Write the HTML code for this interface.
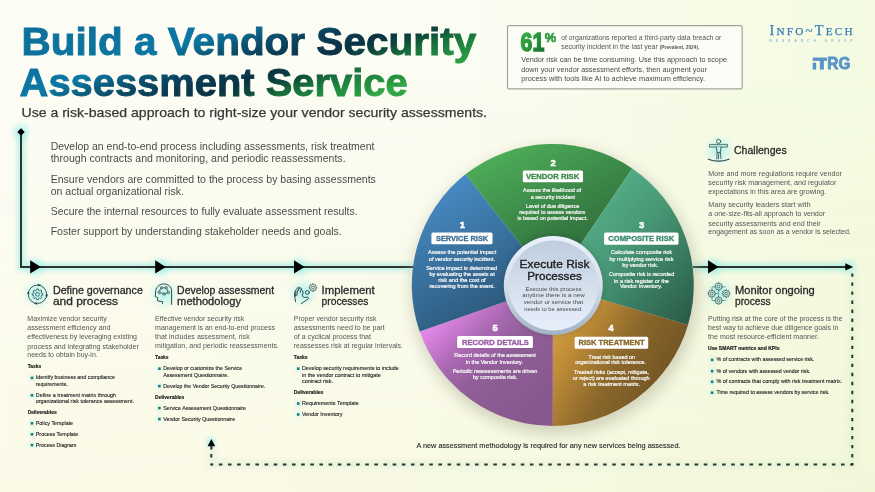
<!DOCTYPE html>
<html><head><meta charset="utf-8"><title>Build a Vendor Security Assessment Service</title>
<style>
html,body{margin:0;padding:0;width:875px;height:492px;overflow:hidden;}
body{font-family:"Liberation Sans",sans-serif;
background:#f9faee;}
svg{position:absolute;left:0;top:0;will-change:transform;}
</style></head><body>
<svg width="875" height="492" viewBox="0 0 875 492">

<defs>
<linearGradient id="tg" gradientUnits="userSpaceOnUse" x1="0" y1="50" x2="51" y2="203">
 <stop offset="0" stop-color="#0c709c"/>
 <stop offset="0.33" stop-color="#0c77a3"/>
 <stop offset="0.41" stop-color="#0c5e80"/>
 <stop offset="0.48" stop-color="#0b4a66"/>
 <stop offset="0.58" stop-color="#0a3a50"/>
 <stop offset="0.67" stop-color="#0a3344"/>
 <stop offset="0.745" stop-color="#0d4a3a"/>
 <stop offset="0.80" stop-color="#166a3c"/>
 <stop offset="0.88" stop-color="#1f8640"/>
 <stop offset="0.94" stop-color="#259440"/>
 <stop offset="1" stop-color="#30a848"/>
</linearGradient>
<linearGradient id="g61" x1="0" y1="0" x2="1" y2="1">
 <stop offset="0" stop-color="#3db54b"/><stop offset="0.6" stop-color="#259039"/><stop offset="1" stop-color="#136428"/>
</linearGradient>
<linearGradient id="s1" x1="0" y1="0" x2="0.5" y2="1">
 <stop offset="0" stop-color="#4c93d0"/><stop offset="1" stop-color="#2b5676"/>
</linearGradient>
<linearGradient id="s2" x1="0.1" y1="0" x2="0.75" y2="1">
 <stop offset="0" stop-color="#50b45b"/><stop offset="0.45" stop-color="#3d8c4a"/><stop offset="0.8" stop-color="#316e3b"/><stop offset="1" stop-color="#2c6236"/>
</linearGradient>
<linearGradient id="s3" x1="0" y1="0" x2="1" y2="1">
 <stop offset="0" stop-color="#60c29a"/><stop offset="0.5" stop-color="#489876"/><stop offset="1" stop-color="#285846"/>
</linearGradient>
<linearGradient id="s4" x1="0" y1="0" x2="1" y2="0.6">
 <stop offset="0" stop-color="#e2ae4a"/><stop offset="0.3" stop-color="#bf8c38"/><stop offset="0.6" stop-color="#8a672a"/><stop offset="1" stop-color="#6c5024"/>
</linearGradient>
<linearGradient id="s5" x1="0" y1="0.2" x2="0.7" y2="1">
 <stop offset="0" stop-color="#f292f6"/><stop offset="0.15" stop-color="#dc84e2"/><stop offset="0.4" stop-color="#a868b0"/><stop offset="0.6" stop-color="#905e98"/><stop offset="1" stop-color="#87588e"/>
</linearGradient>
<linearGradient id="cin" x1="0" y1="0" x2="0" y2="1">
 <stop offset="0" stop-color="#bfcddf"/><stop offset="0.5" stop-color="#d4dfec"/><stop offset="1" stop-color="#e7effa"/>
</linearGradient>
<linearGradient id="cring" x1="0" y1="0" x2="0" y2="1">
 <stop offset="0" stop-color="#e8f1fc"/><stop offset="0.45" stop-color="#d8e2ee"/><stop offset="1" stop-color="#a2b3c5"/>
</linearGradient>
<radialGradient id="glow">
 <stop offset="0" stop-color="#9ff0e8" stop-opacity="0.9"/><stop offset="1" stop-color="#bff5ee" stop-opacity="0"/>
</radialGradient>
<filter id="blur8" x="-20%" y="-20%" width="140%" height="140%"><feGaussianBlur stdDeviation="7"/></filter>
<filter id="lglow" x="-5%" y="-5%" width="110%" height="110%"><feGaussianBlur stdDeviation="2.5"/></filter>
<filter id="blur6" x="-20%" y="-20%" width="140%" height="140%"><feGaussianBlur stdDeviation="5"/></filter>
<filter id="blur3" x="-20%" y="-20%" width="140%" height="140%"><feGaussianBlur stdDeviation="2.5"/></filter>
</defs>

<defs>
<linearGradient id="bgt" x1="0" y1="0" x2="1" y2="0">
 <stop offset="0" stop-color="#fdfdf6"/><stop offset="0.55" stop-color="#fbfcf2"/><stop offset="0.72" stop-color="#f7fbe8"/><stop offset="1" stop-color="#f4fbe2"/>
</linearGradient>
<linearGradient id="bgb" x1="0" y1="0" x2="1" y2="0">
 <stop offset="0" stop-color="#fbfae7"/><stop offset="0.5" stop-color="#f8f9e3"/><stop offset="1" stop-color="#f3f7da"/>
</linearGradient>
<linearGradient id="bgm" x1="0" y1="0" x2="0" y2="1">
 <stop offset="0.15" stop-color="#fff" stop-opacity="0"/><stop offset="1" stop-color="#fff" stop-opacity="1"/>
</linearGradient>
<mask id="bgmask" maskUnits="userSpaceOnUse" x="0" y="0" width="875" height="492"><rect width="875" height="492" fill="url(#bgm)"/></mask>
</defs>
<rect width="875" height="492" fill="url(#bgt)"/>
<rect width="875" height="492" fill="url(#bgb)" mask="url(#bgmask)"/>
<circle cx="21" cy="132" r="12" fill="url(#glow)" opacity="1"/>
<circle cx="35" cy="267" r="13" fill="url(#glow)" opacity="1"/>
<circle cx="160" cy="267" r="13" fill="url(#glow)" opacity="1"/>
<circle cx="299" cy="267" r="13" fill="url(#glow)" opacity="1"/>
<circle cx="713" cy="267" r="13" fill="url(#glow)" opacity="1"/>
<circle cx="849" cy="267" r="11" fill="url(#glow)" opacity="1"/>
<circle cx="211" cy="442" r="8" fill="url(#glow)" opacity="1"/>
<circle cx="35" cy="267" r="7" fill="url(#glow)" opacity="1"/>
<circle cx="160" cy="267" r="7" fill="url(#glow)" opacity="1"/>
<circle cx="299" cy="267" r="7" fill="url(#glow)" opacity="1"/>
<circle cx="713" cy="267" r="7" fill="url(#glow)" opacity="1"/>
<circle cx="37" cy="294" r="16" fill="url(#glow)" opacity="1"/>
<circle cx="164" cy="294" r="16" fill="url(#glow)" opacity="1"/>
<circle cx="303" cy="293" r="16" fill="url(#glow)" opacity="1"/>
<circle cx="719" cy="150" r="16" fill="url(#glow)" opacity="1"/>
<circle cx="719" cy="293" r="16" fill="url(#glow)" opacity="1"/>
<text x="21.6" y="55.2" font-size="39" fill="url(#tg)" font-weight="bold" textLength="454.6" lengthAdjust="spacingAndGlyphs" font-family='"Liberation Sans", sans-serif' stroke="url(#tg)" stroke-width="0.9">Build a Vendor Security</text>
<text x="19.6" y="95.6" font-size="39" fill="url(#tg)" font-weight="bold" textLength="388.0" lengthAdjust="spacingAndGlyphs" font-family='"Liberation Sans", sans-serif' stroke="url(#tg)" stroke-width="0.9">Assessment Service</text>
<text x="21.5" y="117.4" font-size="13.4" fill="#383838" textLength="465.5" lengthAdjust="spacingAndGlyphs" font-family='"Liberation Sans", sans-serif' stroke="#383838" stroke-width="0.25">Use a risk-based approach to right-size your vendor security assessments.</text>
<rect x="507.5" y="25.6" width="234.7" height="63.3" rx="1.5" fill="#fbfcf5" stroke="#a4a49c" stroke-width="1.2"/>
<text x="520.6" y="51.0" font-size="25.5" fill="url(#g61)" font-weight="bold" textLength="23.6" lengthAdjust="spacingAndGlyphs" font-family='"Liberation Sans", sans-serif' stroke="url(#g61)" stroke-width="1.5">61</text>
<text x="544.8" y="41.8" font-size="12.5" fill="#2a9a3e" font-weight="bold" textLength="11.4" lengthAdjust="spacingAndGlyphs" font-family='"Liberation Sans", sans-serif' stroke="#2a9a3e" stroke-width="0.6">%</text>
<text x="561.2" y="40.1" font-size="6.6" fill="#555" textLength="160.2" lengthAdjust="spacingAndGlyphs" font-family='"Liberation Sans", sans-serif' >of organizations reported a third-party data breach or</text>
<text x="561.2" y="49.4" font-size="6.6" fill="#555" font-family='"Liberation Sans", sans-serif' textLength="138.8" lengthAdjust="spacingAndGlyphs">security incident in the last year <tspan font-size="4.6" font-weight="bold">(Prevalent, 2024)</tspan>.</text>
<text x="521.2" y="62.3" font-size="7.1" fill="#4a4a4a" textLength="205.8" lengthAdjust="spacingAndGlyphs" font-family='"Liberation Sans", sans-serif' >Vendor risk can be time consuming. Use this approach to scope</text>
<text x="521.2" y="71.5" font-size="7.1" fill="#4a4a4a" textLength="185.8" lengthAdjust="spacingAndGlyphs" font-family='"Liberation Sans", sans-serif' >down your vendor assessment efforts, then augment your</text>
<text x="521.2" y="80.7" font-size="7.1" fill="#4a4a4a" textLength="183.8" lengthAdjust="spacingAndGlyphs" font-family='"Liberation Sans", sans-serif' >process with tools like AI to achieve maximum efficiency.</text>
<text x="769.5" y="35.3" fill="#3a7db8" stroke="#3a7db8" stroke-width="0.25" font-family='"Liberation Serif", serif' textLength="83" lengthAdjust="spacing"><tspan font-size="14.2">I</tspan><tspan font-size="11.2">NFO</tspan><tspan font-size="13">~</tspan><tspan font-size="14.2">T</tspan><tspan font-size="11.2">ECH</tspan></text>
<text x="769.5" y="41.6" font-size="3.0" fill="#8fb0d0" font-weight="bold" textLength="83.0" lengthAdjust="spacing" font-family='"Liberation Sans", sans-serif' >RESEARCH GROUP</text>
<g fill="#5a95c9"><rect x="812.7" y="57.5" width="14.2" height="3.4"/><rect x="812.7" y="62.6" width="3.5" height="7"/><rect x="819.8" y="60" width="4.1" height="9.6"/></g>
<text x="827.3" y="69.1" font-size="17.0" fill="#5a95c9" font-weight="bold" textLength="23.1" lengthAdjust="spacingAndGlyphs" font-family='"Liberation Sans", sans-serif' stroke="#5a95c9" stroke-width="0.9">RG</text>
<text x="50.7" y="150.4" font-size="11.4" fill="#4b4b4b" textLength="323.7" lengthAdjust="spacingAndGlyphs" font-family='"Liberation Sans", sans-serif' >Develop an end-to-end process including assessments, risk treatment</text>
<text x="50.7" y="162.3" font-size="11.4" fill="#4b4b4b" textLength="294.9" lengthAdjust="spacingAndGlyphs" font-family='"Liberation Sans", sans-serif' >through contracts and monitoring, and periodic reassessments.</text>
<text x="50.7" y="183.0" font-size="11.4" fill="#4b4b4b" textLength="325.2" lengthAdjust="spacingAndGlyphs" font-family='"Liberation Sans", sans-serif' >Ensure vendors are committed to the process by basing assessments</text>
<text x="50.7" y="195.2" font-size="11.4" fill="#4b4b4b" textLength="133.2" lengthAdjust="spacingAndGlyphs" font-family='"Liberation Sans", sans-serif' >on actual organizational risk.</text>
<text x="50.7" y="215.4" font-size="11.4" fill="#4b4b4b" textLength="306.9" lengthAdjust="spacingAndGlyphs" font-family='"Liberation Sans", sans-serif' >Secure the internal resources to fully evaluate assessment results.</text>
<text x="50.7" y="235.3" font-size="11.4" fill="#4b4b4b" textLength="291.1" lengthAdjust="spacingAndGlyphs" font-family='"Liberation Sans", sans-serif' >Foster support by understanding stakeholder needs and goals.</text>
<g stroke="#a0eee2" stroke-width="7" fill="none" filter="url(#lglow)" opacity="0.75">
<path d="M21,132 V267 H413"/><path d="M693,267 H847"/>
<path d="M852.3,272 V464.4 H211.3 V446" stroke="#d8f0d0" opacity="0.6"/>
</g>
<g stroke="#2c3533" stroke-width="2" fill="none">
<path d="M21,132 V267 H413"/>
<path d="M693,267 H847"/>
<path d="M852.3,273.4 V465.4" stroke-dasharray="3.4 5.63"/>
<path d="M211.3,464.4 H853.3" stroke-dasharray="3.6 5.55" stroke-dashoffset="1.65"/>
<path d="M211.3,465.4 V449" stroke-dasharray="2 6 3.3 20"/>
</g>
<path d="M21,128.3 L24.7,132 L21,135.7 L17.3,132 Z" fill="#000"/>
<path d="M30.2,260.2 L40.8,267 L30.2,273.6 Z" fill="#000"/>
<path d="M155.2,260.2 L165.79999999999998,267 L155.2,273.6 Z" fill="#000"/>
<path d="M294,260.2 L304.6,267 L294,273.6 Z" fill="#000"/>
<path d="M708,260.2 L718.6,267 L708,273.6 Z" fill="#000"/>
<path d="M845.3,263.3 L853.2,267 L845.3,270.6 Z" fill="#000"/>
<path d="M207.6,446.2 L211.4,439 L215.2,446.2 Z" fill="#000"/>
<path d="M211.4,445 V449.5" stroke="#1e2a2a" stroke-width="2"/>
<circle cx="554.8" cy="291" r="144" fill="#a8aa90" opacity="0.45" filter="url(#blur8)"/>
<path d="M552.8,285 L465.41,174.35 A141,141 0 0 1 632.26,168.52 Z" fill="url(#s2)"/>
<path d="M552.8,285 L632.26,168.52 A141,141 0 0 1 687.99,325.05 Z" fill="url(#s3)"/>
<path d="M552.8,285 L687.99,325.05 A141,141 0 0 1 552.80,426.00 Z" fill="url(#s4)"/>
<path d="M552.8,285 L552.80,426.00 A141,141 0 0 1 419.72,331.60 Z" fill="url(#s5)"/>
<path d="M552.8,285 L419.72,331.60 A141,141 0 0 1 465.41,174.35 Z" fill="url(#s1)"/>
<circle cx="553.3" cy="284.5" r="50.5" fill="#1a2a20" opacity="0.18" filter="url(#blur3)"/>
<circle cx="553.3" cy="285.5" r="49.5" fill="url(#cring)"/>
<circle cx="553.3" cy="285.5" r="45.0" fill="url(#cin)"/>
<text x="554.5" y="268.2" font-size="10.9" fill="#1e1e1e" text-anchor="middle" textLength="70.0" lengthAdjust="spacingAndGlyphs" font-family='"Liberation Sans", sans-serif' stroke="#1e1e1e" stroke-width="0.35">Execute Risk</text>
<text x="554.5" y="279.9" font-size="10.9" fill="#1e1e1e" text-anchor="middle" textLength="54.5" lengthAdjust="spacingAndGlyphs" font-family='"Liberation Sans", sans-serif' stroke="#1e1e1e" stroke-width="0.35">Processes</text>
<text x="553.5" y="290.6" font-size="6.2" fill="#4a4a4a" text-anchor="middle" textLength="56.0" lengthAdjust="spacingAndGlyphs" font-family='"Liberation Sans", sans-serif' >Execute this process</text>
<text x="553.5" y="297.3" font-size="6.2" fill="#4a4a4a" text-anchor="middle" textLength="62.5" lengthAdjust="spacingAndGlyphs" font-family='"Liberation Sans", sans-serif' >anytime there is a new</text>
<text x="553.5" y="303.9" font-size="6.2" fill="#4a4a4a" text-anchor="middle" textLength="59.5" lengthAdjust="spacingAndGlyphs" font-family='"Liberation Sans", sans-serif' >vendor or service that</text>
<text x="553.5" y="310.6" font-size="6.2" fill="#4a4a4a" text-anchor="middle" textLength="58.4" lengthAdjust="spacingAndGlyphs" font-family='"Liberation Sans", sans-serif' >needs to be assessed.</text>
<text x="553.1" y="166.1" font-size="9.4" font-weight="bold" fill="#fff" stroke="#fff" stroke-width="0.5" text-anchor="middle" font-family='"Liberation Sans", sans-serif'>2</text>
<rect x="522.8" y="170.4" width="60.2" height="11.9" rx="1.5" fill="#fff"/>
<text x="552.6" y="179.0" font-size="7.2" fill="#3d8a48" font-weight="bold" text-anchor="middle" textLength="53.3" lengthAdjust="spacingAndGlyphs" font-family='"Liberation Sans", sans-serif' stroke="#3d8a48" stroke-width="0.3">VENDOR RISK</text>
<text x="552.1" y="191.9" font-size="5.4" fill="#f6f6f6" text-anchor="middle" textLength="58.0" lengthAdjust="spacingAndGlyphs" font-family='"Liberation Sans", sans-serif' stroke="#f6f6f6" stroke-width="0.22">Assess the likelihood of</text>
<text x="552.9" y="198.6" font-size="5.4" fill="#f6f6f6" text-anchor="middle" textLength="44.5" lengthAdjust="spacingAndGlyphs" font-family='"Liberation Sans", sans-serif' stroke="#f6f6f6" stroke-width="0.22">a security incident</text>
<text x="552.6" y="207.5" font-size="5.4" fill="#f6f6f6" text-anchor="middle" textLength="53.3" lengthAdjust="spacingAndGlyphs" font-family='"Liberation Sans", sans-serif' stroke="#f6f6f6" stroke-width="0.22">Level of due diligence</text>
<text x="552.2" y="213.8" font-size="5.4" fill="#f6f6f6" text-anchor="middle" textLength="65.9" lengthAdjust="spacingAndGlyphs" font-family='"Liberation Sans", sans-serif' stroke="#f6f6f6" stroke-width="0.22">required to assess vendors</text>
<text x="552.6" y="219.9" font-size="5.4" fill="#f6f6f6" text-anchor="middle" textLength="70.3" lengthAdjust="spacingAndGlyphs" font-family='"Liberation Sans", sans-serif' stroke="#f6f6f6" stroke-width="0.22">is based on potential impact.</text>
<text x="462.4" y="227.8" font-size="9.4" font-weight="bold" fill="#fff" stroke="#fff" stroke-width="0.5" text-anchor="middle" font-family='"Liberation Sans", sans-serif'>1</text>
<rect x="431.4" y="232.5" width="61.1" height="11.8" rx="1.5" fill="#fff"/>
<text x="462.1" y="241.0" font-size="7.2" fill="#3a6f98" font-weight="bold" text-anchor="middle" textLength="52.3" lengthAdjust="spacingAndGlyphs" font-family='"Liberation Sans", sans-serif' stroke="#3a6f98" stroke-width="0.3">SERVICE RISK</text>
<text x="462.1" y="254.0" font-size="5.4" fill="#f6f6f6" text-anchor="middle" textLength="68.4" lengthAdjust="spacingAndGlyphs" font-family='"Liberation Sans", sans-serif' stroke="#f6f6f6" stroke-width="0.22">Assess the potential impact</text>
<text x="461.9" y="260.5" font-size="5.4" fill="#f6f6f6" text-anchor="middle" textLength="66.2" lengthAdjust="spacingAndGlyphs" font-family='"Liberation Sans", sans-serif' stroke="#f6f6f6" stroke-width="0.22">of vendor security incident.</text>
<text x="461.6" y="269.7" font-size="5.4" fill="#f6f6f6" text-anchor="middle" textLength="70.9" lengthAdjust="spacingAndGlyphs" font-family='"Liberation Sans", sans-serif' stroke="#f6f6f6" stroke-width="0.22">Service impact is determined</text>
<text x="462.1" y="276.1" font-size="5.4" fill="#f6f6f6" text-anchor="middle" textLength="65.2" lengthAdjust="spacingAndGlyphs" font-family='"Liberation Sans", sans-serif' stroke="#f6f6f6" stroke-width="0.22">by evaluating the assets at</text>
<text x="462.0" y="282.2" font-size="5.4" fill="#f6f6f6" text-anchor="middle" textLength="47.3" lengthAdjust="spacingAndGlyphs" font-family='"Liberation Sans", sans-serif' stroke="#f6f6f6" stroke-width="0.22">risk and the cost of</text>
<text x="462.1" y="288.3" font-size="5.4" fill="#f6f6f6" text-anchor="middle" textLength="65.2" lengthAdjust="spacingAndGlyphs" font-family='"Liberation Sans", sans-serif' stroke="#f6f6f6" stroke-width="0.22">recovering from the event.</text>
<text x="641.5" y="227.8" font-size="9.4" font-weight="bold" fill="#fff" stroke="#fff" stroke-width="0.5" text-anchor="middle" font-family='"Liberation Sans", sans-serif'>3</text>
<rect x="604.1" y="232.5" width="74.4" height="12.2" rx="1.5" fill="#fff"/>
<text x="641.3" y="241.4" font-size="7.2" fill="#3a8a6a" font-weight="bold" text-anchor="middle" textLength="65.9" lengthAdjust="spacingAndGlyphs" font-family='"Liberation Sans", sans-serif' stroke="#3a8a6a" stroke-width="0.3">COMPOSITE RISK</text>
<text x="641.5" y="254.0" font-size="5.4" fill="#f6f6f6" text-anchor="middle" textLength="61.0" lengthAdjust="spacingAndGlyphs" font-family='"Liberation Sans", sans-serif' stroke="#f6f6f6" stroke-width="0.22">Calculate composite risk</text>
<text x="641.5" y="260.8" font-size="5.4" fill="#f6f6f6" text-anchor="middle" textLength="64.1" lengthAdjust="spacingAndGlyphs" font-family='"Liberation Sans", sans-serif' stroke="#f6f6f6" stroke-width="0.22">by multiplying service risk</text>
<text x="640.3" y="266.9" font-size="5.4" fill="#f6f6f6" text-anchor="middle" textLength="35.9" lengthAdjust="spacingAndGlyphs" font-family='"Liberation Sans", sans-serif' stroke="#f6f6f6" stroke-width="0.22">by vendor risk.</text>
<text x="641.6" y="275.8" font-size="5.4" fill="#f6f6f6" text-anchor="middle" textLength="65.3" lengthAdjust="spacingAndGlyphs" font-family='"Liberation Sans", sans-serif' stroke="#f6f6f6" stroke-width="0.22">Composite risk is recorded</text>
<text x="641.5" y="282.5" font-size="5.4" fill="#f6f6f6" text-anchor="middle" textLength="54.9" lengthAdjust="spacingAndGlyphs" font-family='"Liberation Sans", sans-serif' stroke="#f6f6f6" stroke-width="0.22">in a risk register or the</text>
<text x="641.0" y="288.3" font-size="5.4" fill="#f6f6f6" text-anchor="middle" textLength="41.9" lengthAdjust="spacingAndGlyphs" font-family='"Liberation Sans", sans-serif' stroke="#f6f6f6" stroke-width="0.22">Vendor Inventory.</text>
<text x="495.2" y="331.2" font-size="9.4" font-weight="bold" fill="#fff" stroke="#fff" stroke-width="0.5" text-anchor="middle" font-family='"Liberation Sans", sans-serif'>5</text>
<rect x="457.2" y="335.9" width="75.7" height="12.1" rx="1.5" fill="#fff"/>
<text x="495.4" y="344.7" font-size="7.2" fill="#9a5aa5" font-weight="bold" text-anchor="middle" textLength="67.0" lengthAdjust="spacingAndGlyphs" font-family='"Liberation Sans", sans-serif' stroke="#9a5aa5" stroke-width="0.3">RECORD DETAILS</text>
<text x="495.0" y="357.3" font-size="5.4" fill="#f6f6f6" text-anchor="middle" textLength="81.7" lengthAdjust="spacingAndGlyphs" font-family='"Liberation Sans", sans-serif' stroke="#f6f6f6" stroke-width="0.22">Record details of the assessment</text>
<text x="494.4" y="363.9" font-size="5.4" fill="#f6f6f6" text-anchor="middle" textLength="57.1" lengthAdjust="spacingAndGlyphs" font-family='"Liberation Sans", sans-serif' stroke="#f6f6f6" stroke-width="0.22">in the Vendor Inventory.</text>
<text x="495.0" y="372.5" font-size="5.4" fill="#f6f6f6" text-anchor="middle" textLength="84.7" lengthAdjust="spacingAndGlyphs" font-family='"Liberation Sans", sans-serif' stroke="#f6f6f6" stroke-width="0.22">Periodic reassessments are driven</text>
<text x="495.2" y="379.1" font-size="5.4" fill="#f6f6f6" text-anchor="middle" textLength="44.9" lengthAdjust="spacingAndGlyphs" font-family='"Liberation Sans", sans-serif' stroke="#f6f6f6" stroke-width="0.22">by composite risk.</text>
<text x="611.2" y="331.3" font-size="9.4" font-weight="bold" fill="#fff" stroke="#fff" stroke-width="0.5" text-anchor="middle" font-family='"Liberation Sans", sans-serif'>4</text>
<rect x="574.7" y="336.8" width="73.5" height="11.9" rx="1.5" fill="#fff"/>
<text x="611.5" y="345.4" font-size="7.2" fill="#876628" font-weight="bold" text-anchor="middle" textLength="66.1" lengthAdjust="spacingAndGlyphs" font-family='"Liberation Sans", sans-serif' stroke="#876628" stroke-width="0.3">RISK TREATMENT</text>
<text x="611.8" y="358.6" font-size="5.4" fill="#f6f6f6" text-anchor="middle" textLength="46.5" lengthAdjust="spacingAndGlyphs" font-family='"Liberation Sans", sans-serif' stroke="#f6f6f6" stroke-width="0.22">Treat risk based on</text>
<text x="610.6" y="364.3" font-size="5.4" fill="#f6f6f6" text-anchor="middle" textLength="70.8" lengthAdjust="spacingAndGlyphs" font-family='"Liberation Sans", sans-serif' stroke="#f6f6f6" stroke-width="0.22">organizational risk tolerance.</text>
<text x="611.3" y="373.9" font-size="5.4" fill="#f6f6f6" text-anchor="middle" textLength="75.1" lengthAdjust="spacingAndGlyphs" font-family='"Liberation Sans", sans-serif' stroke="#f6f6f6" stroke-width="0.22">Treated risks (accept, mitigate,</text>
<text x="611.2" y="379.9" font-size="5.4" fill="#f6f6f6" text-anchor="middle" textLength="76.8" lengthAdjust="spacingAndGlyphs" font-family='"Liberation Sans", sans-serif' stroke="#f6f6f6" stroke-width="0.22">or reject) are evaluated through</text>
<text x="611.7" y="386.3" font-size="5.4" fill="#f6f6f6" text-anchor="middle" textLength="56.9" lengthAdjust="spacingAndGlyphs" font-family='"Liberation Sans", sans-serif' stroke="#f6f6f6" stroke-width="0.22">a risk treatment matrix.</text>
<text x="52.9" y="294.0" font-size="10.1" fill="#2b2b2b" textLength="90.0" lengthAdjust="spacingAndGlyphs" font-family='"Liberation Sans", sans-serif' stroke="#2b2b2b" stroke-width="0.3">Define governance</text>
<text x="52.9" y="305.0" font-size="10.1" fill="#2b2b2b" textLength="65.1" lengthAdjust="spacingAndGlyphs" font-family='"Liberation Sans", sans-serif' stroke="#2b2b2b" stroke-width="0.3">and process</text>
<text x="27.3" y="321.2" font-size="7.9" fill="#555" textLength="79.5" lengthAdjust="spacingAndGlyphs" font-family='"Liberation Sans", sans-serif' >Maximize vendor security</text>
<text x="27.3" y="330.3" font-size="7.9" fill="#555" textLength="83.2" lengthAdjust="spacingAndGlyphs" font-family='"Liberation Sans", sans-serif' >assessment efficiency and</text>
<text x="27.3" y="339.4" font-size="7.9" fill="#555" textLength="109.7" lengthAdjust="spacingAndGlyphs" font-family='"Liberation Sans", sans-serif' >effectiveness by leveraging existing</text>
<text x="27.3" y="348.5" font-size="7.9" fill="#555" textLength="111.5" lengthAdjust="spacingAndGlyphs" font-family='"Liberation Sans", sans-serif' >process and integrating stakeholder</text>
<text x="27.3" y="357.3" font-size="7.9" fill="#555" textLength="70.4" lengthAdjust="spacingAndGlyphs" font-family='"Liberation Sans", sans-serif' >needs to obtain buy-in.</text>
<text x="27.7" y="368.1" font-size="5.8" fill="#222" font-weight="bold" textLength="13.5" lengthAdjust="spacingAndGlyphs" font-family='"Liberation Sans", sans-serif' stroke="#222" stroke-width="0.2">Tasks</text>
<circle cx="32.0" cy="377.9" r="6" fill="url(#glow)" opacity="0.35"/>
<rect x="30.7" y="376.6" width="2.6" height="2.6" fill="#16807e"/>
<text x="35.8" y="379.3" font-size="5.5" fill="#222" textLength="79.2" lengthAdjust="spacingAndGlyphs" font-family='"Liberation Sans", sans-serif' stroke="#222" stroke-width="0.12">Identify business and compliance</text>
<text x="35.8" y="385.5" font-size="5.5" fill="#222" textLength="32.1" lengthAdjust="spacingAndGlyphs" font-family='"Liberation Sans", sans-serif' stroke="#222" stroke-width="0.12">requirements.</text>
<circle cx="32.0" cy="395.3" r="6" fill="url(#glow)" opacity="0.35"/>
<rect x="30.7" y="394.0" width="2.6" height="2.6" fill="#16807e"/>
<text x="35.8" y="396.7" font-size="5.5" fill="#222" textLength="80.2" lengthAdjust="spacingAndGlyphs" font-family='"Liberation Sans", sans-serif' stroke="#222" stroke-width="0.12">Define a treatment matrix through</text>
<text x="35.8" y="402.9" font-size="5.5" fill="#222" textLength="98.2" lengthAdjust="spacingAndGlyphs" font-family='"Liberation Sans", sans-serif' stroke="#222" stroke-width="0.12">organizational risk tolerance assessment.</text>
<text x="27.7" y="413.7" font-size="5.8" fill="#222" font-weight="bold" textLength="29.0" lengthAdjust="spacingAndGlyphs" font-family='"Liberation Sans", sans-serif' stroke="#222" stroke-width="0.2">Deliverables</text>
<circle cx="32.0" cy="423.3" r="6" fill="url(#glow)" opacity="0.35"/>
<rect x="30.7" y="422.0" width="2.6" height="2.6" fill="#16807e"/>
<text x="35.8" y="424.7" font-size="5.5" fill="#222" textLength="37.3" lengthAdjust="spacingAndGlyphs" font-family='"Liberation Sans", sans-serif' stroke="#222" stroke-width="0.12">Policy Template</text>
<circle cx="32.0" cy="434.3" r="6" fill="url(#glow)" opacity="0.35"/>
<rect x="30.7" y="433.0" width="2.6" height="2.6" fill="#16807e"/>
<text x="35.8" y="435.7" font-size="5.5" fill="#222" textLength="42.5" lengthAdjust="spacingAndGlyphs" font-family='"Liberation Sans", sans-serif' stroke="#222" stroke-width="0.12">Process Template</text>
<circle cx="32.0" cy="445.1" r="6" fill="url(#glow)" opacity="0.35"/>
<rect x="30.7" y="443.8" width="2.6" height="2.6" fill="#16807e"/>
<text x="35.8" y="446.5" font-size="5.5" fill="#222" textLength="40.6" lengthAdjust="spacingAndGlyphs" font-family='"Liberation Sans", sans-serif' stroke="#222" stroke-width="0.12">Process Diagram</text>
<text x="177.1" y="294.0" font-size="10.1" fill="#2b2b2b" textLength="97.0" lengthAdjust="spacingAndGlyphs" font-family='"Liberation Sans", sans-serif' stroke="#2b2b2b" stroke-width="0.3">Develop assessment</text>
<text x="177.1" y="305.0" font-size="10.1" fill="#2b2b2b" textLength="63.9" lengthAdjust="spacingAndGlyphs" font-family='"Liberation Sans", sans-serif' stroke="#2b2b2b" stroke-width="0.3">methodology</text>
<text x="155.1" y="321.1" font-size="7.9" fill="#555" textLength="89.2" lengthAdjust="spacingAndGlyphs" font-family='"Liberation Sans", sans-serif' >Effective vendor security risk</text>
<text x="155.1" y="330.1" font-size="7.9" fill="#555" textLength="119.9" lengthAdjust="spacingAndGlyphs" font-family='"Liberation Sans", sans-serif' >management is an end-to-end process</text>
<text x="155.1" y="339.1" font-size="7.9" fill="#555" textLength="94.6" lengthAdjust="spacingAndGlyphs" font-family='"Liberation Sans", sans-serif' >that includes assessment, risk</text>
<text x="155.1" y="348.1" font-size="7.9" fill="#555" textLength="123.9" lengthAdjust="spacingAndGlyphs" font-family='"Liberation Sans", sans-serif' >mitigation, and periodic reassessments.</text>
<text x="155.1" y="359.2" font-size="5.8" fill="#222" font-weight="bold" textLength="13.4" lengthAdjust="spacingAndGlyphs" font-family='"Liberation Sans", sans-serif' stroke="#222" stroke-width="0.2">Tasks</text>
<circle cx="159.4" cy="368.7" r="6" fill="url(#glow)" opacity="0.35"/>
<rect x="158.1" y="367.4" width="2.6" height="2.6" fill="#16807e"/>
<text x="163.2" y="370.1" font-size="5.5" fill="#222" textLength="78.9" lengthAdjust="spacingAndGlyphs" font-family='"Liberation Sans", sans-serif' stroke="#222" stroke-width="0.12">Develop or customize the Service</text>
<text x="163.2" y="376.5" font-size="5.5" fill="#222" textLength="65.5" lengthAdjust="spacingAndGlyphs" font-family='"Liberation Sans", sans-serif' stroke="#222" stroke-width="0.12">Assessment Questionnaire.</text>
<circle cx="159.4" cy="386.1" r="6" fill="url(#glow)" opacity="0.35"/>
<rect x="158.1" y="384.8" width="2.6" height="2.6" fill="#16807e"/>
<text x="163.2" y="387.5" font-size="5.5" fill="#222" textLength="102.1" lengthAdjust="spacingAndGlyphs" font-family='"Liberation Sans", sans-serif' stroke="#222" stroke-width="0.12">Develop the Vendor Security Questionnaire.</text>
<text x="155.1" y="398.5" font-size="5.8" fill="#222" font-weight="bold" textLength="29.3" lengthAdjust="spacingAndGlyphs" font-family='"Liberation Sans", sans-serif' stroke="#222" stroke-width="0.2">Deliverables</text>
<circle cx="159.4" cy="408.1" r="6" fill="url(#glow)" opacity="0.35"/>
<rect x="158.1" y="406.8" width="2.6" height="2.6" fill="#16807e"/>
<text x="163.2" y="409.5" font-size="5.5" fill="#222" textLength="82.9" lengthAdjust="spacingAndGlyphs" font-family='"Liberation Sans", sans-serif' stroke="#222" stroke-width="0.12">Service Assessment Questionnaire</text>
<circle cx="159.4" cy="419.1" r="6" fill="url(#glow)" opacity="0.35"/>
<rect x="158.1" y="417.8" width="2.6" height="2.6" fill="#16807e"/>
<text x="163.2" y="420.5" font-size="5.5" fill="#222" textLength="71.9" lengthAdjust="spacingAndGlyphs" font-family='"Liberation Sans", sans-serif' stroke="#222" stroke-width="0.12">Vendor Security Questionnaire</text>
<text x="321.6" y="294.0" font-size="10.1" fill="#2b2b2b" textLength="53.1" lengthAdjust="spacingAndGlyphs" font-family='"Liberation Sans", sans-serif' stroke="#2b2b2b" stroke-width="0.3">Implement</text>
<text x="321.6" y="305.0" font-size="10.1" fill="#2b2b2b" textLength="46.7" lengthAdjust="spacingAndGlyphs" font-family='"Liberation Sans", sans-serif' stroke="#2b2b2b" stroke-width="0.3">processes</text>
<text x="293.8" y="321.0" font-size="7.9" fill="#555" textLength="82.7" lengthAdjust="spacingAndGlyphs" font-family='"Liberation Sans", sans-serif' >Proper vendor security risk</text>
<text x="293.8" y="330.2" font-size="7.9" fill="#555" textLength="90.9" lengthAdjust="spacingAndGlyphs" font-family='"Liberation Sans", sans-serif' >assessments need to be part</text>
<text x="293.8" y="339.2" font-size="7.9" fill="#555" textLength="77.2" lengthAdjust="spacingAndGlyphs" font-family='"Liberation Sans", sans-serif' >of a cyclical process that</text>
<text x="293.8" y="348.3" font-size="7.9" fill="#555" textLength="109.2" lengthAdjust="spacingAndGlyphs" font-family='"Liberation Sans", sans-serif' >reassesses risk at regular intervals.</text>
<text x="293.8" y="359.2" font-size="5.8" fill="#222" font-weight="bold" textLength="13.7" lengthAdjust="spacingAndGlyphs" font-family='"Liberation Sans", sans-serif' stroke="#222" stroke-width="0.2">Tasks</text>
<circle cx="298.2" cy="368.7" r="6" fill="url(#glow)" opacity="0.35"/>
<rect x="296.9" y="367.4" width="2.6" height="2.6" fill="#16807e"/>
<text x="302.0" y="370.1" font-size="5.5" fill="#222" textLength="96.8" lengthAdjust="spacingAndGlyphs" font-family='"Liberation Sans", sans-serif' stroke="#222" stroke-width="0.12">Develop security requirements to include</text>
<text x="302.0" y="376.5" font-size="5.5" fill="#222" textLength="78.7" lengthAdjust="spacingAndGlyphs" font-family='"Liberation Sans", sans-serif' stroke="#222" stroke-width="0.12">in the vendor contract to mitigate</text>
<text x="302.0" y="382.9" font-size="5.5" fill="#222" textLength="31.0" lengthAdjust="spacingAndGlyphs" font-family='"Liberation Sans", sans-serif' stroke="#222" stroke-width="0.12">contract risk.</text>
<text x="293.8" y="393.9" font-size="5.8" fill="#222" font-weight="bold" textLength="29.6" lengthAdjust="spacingAndGlyphs" font-family='"Liberation Sans", sans-serif' stroke="#222" stroke-width="0.2">Deliverables</text>
<circle cx="298.2" cy="403.5" r="6" fill="url(#glow)" opacity="0.35"/>
<rect x="296.9" y="402.2" width="2.6" height="2.6" fill="#16807e"/>
<text x="302.0" y="404.9" font-size="5.5" fill="#222" textLength="56.8" lengthAdjust="spacingAndGlyphs" font-family='"Liberation Sans", sans-serif' stroke="#222" stroke-width="0.12">Requirements Template</text>
<circle cx="298.2" cy="414.5" r="6" fill="url(#glow)" opacity="0.35"/>
<rect x="296.9" y="413.2" width="2.6" height="2.6" fill="#16807e"/>
<text x="302.0" y="415.9" font-size="5.5" fill="#222" textLength="40.3" lengthAdjust="spacingAndGlyphs" font-family='"Liberation Sans", sans-serif' stroke="#222" stroke-width="0.12">Vendor Inventory</text>
<text x="734.0" y="154.0" font-size="10.1" fill="#2b2b2b" textLength="52.7" lengthAdjust="spacingAndGlyphs" font-family='"Liberation Sans", sans-serif' stroke="#2b2b2b" stroke-width="0.3">Challenges</text>
<text x="708.3" y="176.0" font-size="7.9" fill="#555" textLength="133.6" lengthAdjust="spacingAndGlyphs" font-family='"Liberation Sans", sans-serif' >More and more regulations require vendor</text>
<text x="708.3" y="185.0" font-size="7.9" fill="#555" textLength="128.0" lengthAdjust="spacingAndGlyphs" font-family='"Liberation Sans", sans-serif' >security risk management, and regulator</text>
<text x="708.3" y="193.9" font-size="7.9" fill="#555" textLength="118.0" lengthAdjust="spacingAndGlyphs" font-family='"Liberation Sans", sans-serif' >expectations in this area are growing.</text>
<text x="708.3" y="207.3" font-size="7.9" fill="#555" textLength="102.3" lengthAdjust="spacingAndGlyphs" font-family='"Liberation Sans", sans-serif' >Many security leaders start with</text>
<text x="708.3" y="216.4" font-size="7.9" fill="#555" textLength="116.8" lengthAdjust="spacingAndGlyphs" font-family='"Liberation Sans", sans-serif' >a one-size-fits-all approach to vendor</text>
<text x="708.3" y="225.5" font-size="7.9" fill="#555" textLength="112.4" lengthAdjust="spacingAndGlyphs" font-family='"Liberation Sans", sans-serif' >security assessments and end their</text>
<text x="708.3" y="234.3" font-size="7.9" fill="#555" textLength="142.5" lengthAdjust="spacingAndGlyphs" font-family='"Liberation Sans", sans-serif' >engagement as soon as a vendor is selected.</text>
<text x="735.0" y="294.0" font-size="10.1" fill="#2b2b2b" textLength="79.8" lengthAdjust="spacingAndGlyphs" font-family='"Liberation Sans", sans-serif' stroke="#2b2b2b" stroke-width="0.3">Monitor ongoing</text>
<text x="735.0" y="305.2" font-size="10.1" fill="#2b2b2b" textLength="35.6" lengthAdjust="spacingAndGlyphs" font-family='"Liberation Sans", sans-serif' stroke="#2b2b2b" stroke-width="0.3">process</text>
<text x="708.1" y="321.0" font-size="7.9" fill="#555" textLength="134.6" lengthAdjust="spacingAndGlyphs" font-family='"Liberation Sans", sans-serif' >Putting risk at the core of the process is the</text>
<text x="708.1" y="330.2" font-size="7.9" fill="#555" textLength="130.3" lengthAdjust="spacingAndGlyphs" font-family='"Liberation Sans", sans-serif' >best way to achieve due diligence goals in</text>
<text x="708.1" y="339.4" font-size="7.9" fill="#555" textLength="110.8" lengthAdjust="spacingAndGlyphs" font-family='"Liberation Sans", sans-serif' >the most resource-efficient manner.</text>
<text x="708.1" y="350.2" font-size="5.6" fill="#222" font-weight="bold" textLength="71.4" lengthAdjust="spacingAndGlyphs" font-family='"Liberation Sans", sans-serif' stroke="#222" stroke-width="0.2">Use SMART metrics and KPIs</text>
<circle cx="712.1" cy="359.9" r="6" fill="url(#glow)" opacity="0.35"/>
<rect x="710.8" y="358.6" width="2.6" height="2.6" fill="#16807e"/>
<text x="716.5" y="361.3" font-size="5.5" fill="#222" textLength="97.8" lengthAdjust="spacingAndGlyphs" font-family='"Liberation Sans", sans-serif' stroke="#222" stroke-width="0.12">% of contracts with assessed service risk.</text>
<circle cx="712.1" cy="371.1" r="6" fill="url(#glow)" opacity="0.35"/>
<rect x="710.8" y="369.8" width="2.6" height="2.6" fill="#16807e"/>
<text x="716.5" y="372.5" font-size="5.5" fill="#222" textLength="94.0" lengthAdjust="spacingAndGlyphs" font-family='"Liberation Sans", sans-serif' stroke="#222" stroke-width="0.12">% of vendors with assessed vendor risk.</text>
<circle cx="712.1" cy="381.8" r="6" fill="url(#glow)" opacity="0.35"/>
<rect x="710.8" y="380.5" width="2.6" height="2.6" fill="#16807e"/>
<text x="716.5" y="383.2" font-size="5.5" fill="#222" textLength="125.7" lengthAdjust="spacingAndGlyphs" font-family='"Liberation Sans", sans-serif' stroke="#222" stroke-width="0.12">% of contracts that comply with risk treatment matrix.</text>
<circle cx="712.1" cy="392.7" r="6" fill="url(#glow)" opacity="0.35"/>
<rect x="710.8" y="391.4" width="2.6" height="2.6" fill="#16807e"/>
<text x="716.5" y="394.1" font-size="5.5" fill="#222" textLength="113.0" lengthAdjust="spacingAndGlyphs" font-family='"Liberation Sans", sans-serif' stroke="#222" stroke-width="0.12">Time required to assess vendors by service risk.</text>
<text x="416.5" y="447.8" font-size="7.2" fill="#262626" textLength="264.0" lengthAdjust="spacingAndGlyphs" font-family='"Liberation Sans", sans-serif' stroke="#262626" stroke-width="0.12">A new assessment methodology is required for any new services being assessed.</text>
<g fill="none" stroke="#2d4a50" stroke-width="0.9" stroke-linecap="round" stroke-linejoin="round">
<circle cx="37.5" cy="294.3" r="9.2"/>
</g>
<polygon points="41.59,293.28 42.85,293.55 42.85,295.05 41.59,295.32 41.11,296.47 41.81,297.55 40.75,298.61 39.67,297.91 38.52,298.39 38.25,299.65 36.75,299.65 36.48,298.39 35.33,297.91 34.25,298.61 33.19,297.55 33.89,296.47 33.41,295.32 32.15,295.05 32.15,293.55 33.41,293.28 33.89,292.13 33.19,291.05 34.25,289.99 35.33,290.69 36.48,290.21 36.75,288.95 38.25,288.95 38.52,290.21 39.67,290.69 40.75,289.99 41.81,291.05 41.11,292.13" fill="none" stroke="#2d4a50" stroke-width="0.8" stroke-linejoin="round"/>
<circle cx="37.5" cy="294.3" r="1.94" fill="none" stroke="#2d4a50" stroke-width="0.72"/>
<path d="M-1.6,-1.3 L1.6,0 L-1.6,1.3 Z" fill="#2d4a50" transform="translate(39.5,285.1) rotate(0)"/>
<path d="M-1.6,-1.3 L1.6,0 L-1.6,1.3 Z" fill="#2d4a50" transform="translate(46.7,296.3) rotate(90)"/>
<path d="M-1.6,-1.3 L1.6,0 L-1.6,1.3 Z" fill="#2d4a50" transform="translate(35.5,303.5) rotate(180)"/>
<path d="M-1.6,-1.3 L1.6,0 L-1.6,1.3 Z" fill="#2d4a50" transform="translate(28.3,292.3) rotate(270)"/>
<g fill="none" stroke="#2d4a50" stroke-width="1" stroke-linecap="round" stroke-linejoin="round">
<path d="M171.6,304.4 V291 C171.6,286.5 168,284 163.5,284 C158.5,284 155.6,288 155.6,292 L155.2,296.5 L157.6,297.5 L157.8,301 L162.5,301.5 L162.5,303.5"/>
<path d="M161.5,287.8 L166.2,287.8 L168.4,292.4 L164.2,294 L159.2,292.4 Z" stroke-width="0.8"/>
</g>
<circle cx="161.5" cy="287.8" r="1.15" fill="#bfe9e2" stroke="#2d4a50" stroke-width="0.85"/>
<circle cx="166.2" cy="287.8" r="1.15" fill="#bfe9e2" stroke="#2d4a50" stroke-width="0.85"/>
<circle cx="168.4" cy="292.4" r="1.15" fill="#bfe9e2" stroke="#2d4a50" stroke-width="0.85"/>
<circle cx="164.2" cy="294" r="1.15" fill="#bfe9e2" stroke="#2d4a50" stroke-width="0.85"/>
<circle cx="159.2" cy="292.4" r="1.15" fill="#bfe9e2" stroke="#2d4a50" stroke-width="0.85"/>
<g fill="none" stroke="#2d4a50" stroke-width="1" stroke-linecap="round" stroke-linejoin="round">
<path d="M295.6,301.6 C295.4,299.5 294.6,297.5 294.5,295 C294.4,292.5 295.2,290.5 296.5,289.2 L297.9,287.3 C298.4,286.7 299.2,287.2 299,288 L298.4,290.6 M298.9,288.4 L300.3,287.8 C301,287.6 301.5,288.2 301.2,289 L300.2,292.4 M301.2,289.2 C302.5,290 303.2,291.2 302.9,293 L302.5,295.2 C302.3,296.6 303.1,297.4 304.6,297.4 L307.6,297.2 C308.8,297.2 309.2,298.3 308.2,299 L305.6,300.6 L301.2,303.6"/>
<path d="M295.8,291.4 L295.6,296.2 M297.4,290.6 L296.8,295.4"/>
<circle cx="307.4" cy="292.5" r="1.9"/>
</g>
<polygon points="315.78,286.88 316.66,287.07 316.66,288.13 315.78,288.32 315.44,289.13 315.93,289.89 315.19,290.63 314.43,290.14 313.62,290.48 313.43,291.36 312.37,291.36 312.18,290.48 311.37,290.14 310.61,290.63 309.87,289.89 310.36,289.13 310.02,288.32 309.14,288.13 309.14,287.07 310.02,286.88 310.36,286.07 309.87,285.31 310.61,284.57 311.37,285.06 312.18,284.72 312.37,283.84 313.43,283.84 313.62,284.72 314.43,285.06 315.19,284.57 315.93,285.31 315.44,286.07" fill="none" stroke="#2d4a50" stroke-width="0.8" stroke-linejoin="round"/>
<circle cx="312.9" cy="287.6" r="1.37" fill="none" stroke="#2d4a50" stroke-width="0.72"/>
<g fill="none" stroke="#2d4a50" stroke-width="0.85" stroke-linecap="round" stroke-linejoin="round">
<circle cx="718.6" cy="141.4" r="2.1" fill="#e8faf6"/>
<path d="M709.8,144.4 H727.5 V147.1 H709.8 Z" fill="#b4e6de" stroke-width="0.7"/>
<path d="M716.3,147.1 L717.1,152.4 H720.3 L721,147.1" fill="#c8f0ea"/>
<path d="M717.1,152.4 C716.6,155 717.3,156.5 716.8,159 M720.3,152.4 C721,154.8 720.4,156.6 720.9,158.6 M718.7,153.6 C718.4,155.5 718.9,157 718.5,158.8"/>
<path d="M708.3,159.2 Q718.6,163.2 729,159.2" stroke-width="1.2"/>
</g>
<g fill="none" stroke="#6aa6a6" stroke-width="1">
<path d="M712,290 V287 H715 M722,287 H725.5 M718.6,290 V297 M712,297 V300.5 H715 M722,300.5 H725.5 M715.5,293.6 H718.6"/>
</g>
<g fill="none" stroke="#2d4a50" stroke-width="0.9">
</g>
<polygon points="721.48,285.78 722.36,285.97 722.36,287.03 721.48,287.22 721.14,288.03 721.63,288.79 720.89,289.53 720.13,289.04 719.32,289.38 719.13,290.26 718.07,290.26 717.88,289.38 717.07,289.04 716.31,289.53 715.57,288.79 716.06,288.03 715.72,287.22 714.84,287.03 714.84,285.97 715.72,285.78 716.06,284.97 715.57,284.21 716.31,283.47 717.07,283.96 717.88,283.62 718.07,282.74 719.13,282.74 719.32,283.62 720.13,283.96 720.89,283.47 721.63,284.21 721.14,284.97" fill="none" stroke="#2d4a50" stroke-width="0.8" stroke-linejoin="round"/>
<circle cx="718.6" cy="286.5" r="1.37" fill="none" stroke="#2d4a50" stroke-width="0.72"/>
<polygon points="714.68,292.88 715.56,293.07 715.56,294.13 714.68,294.32 714.34,295.13 714.83,295.89 714.09,296.63 713.33,296.14 712.52,296.48 712.33,297.36 711.27,297.36 711.08,296.48 710.27,296.14 709.51,296.63 708.77,295.89 709.26,295.13 708.92,294.32 708.04,294.13 708.04,293.07 708.92,292.88 709.26,292.07 708.77,291.31 709.51,290.57 710.27,291.06 711.08,290.72 711.27,289.84 712.33,289.84 712.52,290.72 713.33,291.06 714.09,290.57 714.83,291.31 714.34,292.07" fill="none" stroke="#2d4a50" stroke-width="0.8" stroke-linejoin="round"/>
<circle cx="711.8" cy="293.6" r="1.37" fill="none" stroke="#2d4a50" stroke-width="0.72"/>
<polygon points="728.98,292.88 729.86,293.07 729.86,294.13 728.98,294.32 728.64,295.13 729.13,295.89 728.39,296.63 727.63,296.14 726.82,296.48 726.63,297.36 725.57,297.36 725.38,296.48 724.57,296.14 723.81,296.63 723.07,295.89 723.56,295.13 723.22,294.32 722.34,294.13 722.34,293.07 723.22,292.88 723.56,292.07 723.07,291.31 723.81,290.57 724.57,291.06 725.38,290.72 725.57,289.84 726.63,289.84 726.82,290.72 727.63,291.06 728.39,290.57 729.13,291.31 728.64,292.07" fill="none" stroke="#2d4a50" stroke-width="0.8" stroke-linejoin="round"/>
<circle cx="726.1" cy="293.6" r="1.37" fill="none" stroke="#2d4a50" stroke-width="0.72"/>
<polygon points="721.48,299.78 722.36,299.97 722.36,301.03 721.48,301.22 721.14,302.03 721.63,302.79 720.89,303.53 720.13,303.04 719.32,303.38 719.13,304.26 718.07,304.26 717.88,303.38 717.07,303.04 716.31,303.53 715.57,302.79 716.06,302.03 715.72,301.22 714.84,301.03 714.84,299.97 715.72,299.78 716.06,298.97 715.57,298.21 716.31,297.47 717.07,297.96 717.88,297.62 718.07,296.74 719.13,296.74 719.32,297.62 720.13,297.96 720.89,297.47 721.63,298.21 721.14,298.97" fill="none" stroke="#2d4a50" stroke-width="0.8" stroke-linejoin="round"/>
<circle cx="718.6" cy="300.5" r="1.37" fill="none" stroke="#2d4a50" stroke-width="0.72"/>
</svg>
</body></html>
